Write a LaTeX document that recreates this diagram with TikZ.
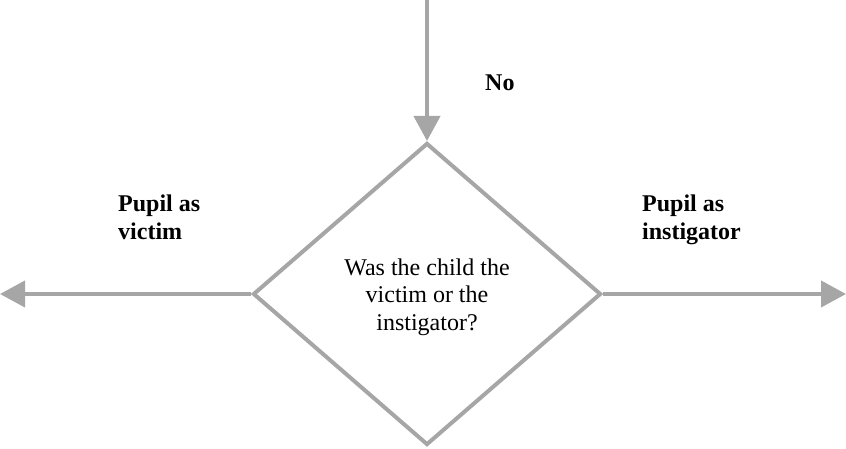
\documentclass[tikz,border=0pt]{standalone}
\usepackage{fontspec}
\setmainfont{Liberation Serif}
\usetikzlibrary{shapes,arrows,positioning,calc,arrows.meta}
\definecolor{linegray}{RGB}{166,166,166}

\begin{document}
\begin{tikzpicture}[
    x=1pt, y=-1pt,
    decision/.style={diamond, draw=linegray, line width=4pt, minimum width=348pt, minimum height=302pt, inner sep=0pt},
    question/.style={align=center, inner sep=0pt, font=\fontsize{24}{27.6}\selectfont},
    label/.style={font=\fontsize{24}{28}\selectfont\bfseries, align=left, anchor=base west, inner sep=0pt},
    arrow/.style={draw=linegray, line width=4pt, -{Triangle[length=25pt,width=26pt]}}
]
    \useasboundingbox (0, 0) rectangle (846, 449);

    \node[decision] (q) at (427, 294) {};
    \node[question] (qtext) at ([yshift=-3pt]q.center) {Was the child the\\victim or the\\instigator?};
    \coordinate (top) at (427, 0);
    \coordinate (lend) at (0, 294);
    \coordinate (rend) at (846, 294);

    % base anchor sits on the last line
    \node[label] (no) at (485, 91) {No};
    \node[label] (victim) at (118, 240) {Pupil as\\victim};
    \node[label] (instig) at (642, 240) {Pupil as\\instigator};

    \draw[arrow] (top) -- (q.north);
    \draw[arrow] (q.west) -- (lend);
    \draw[arrow] (q.east) -- (rend);
\end{tikzpicture}
\end{document}
